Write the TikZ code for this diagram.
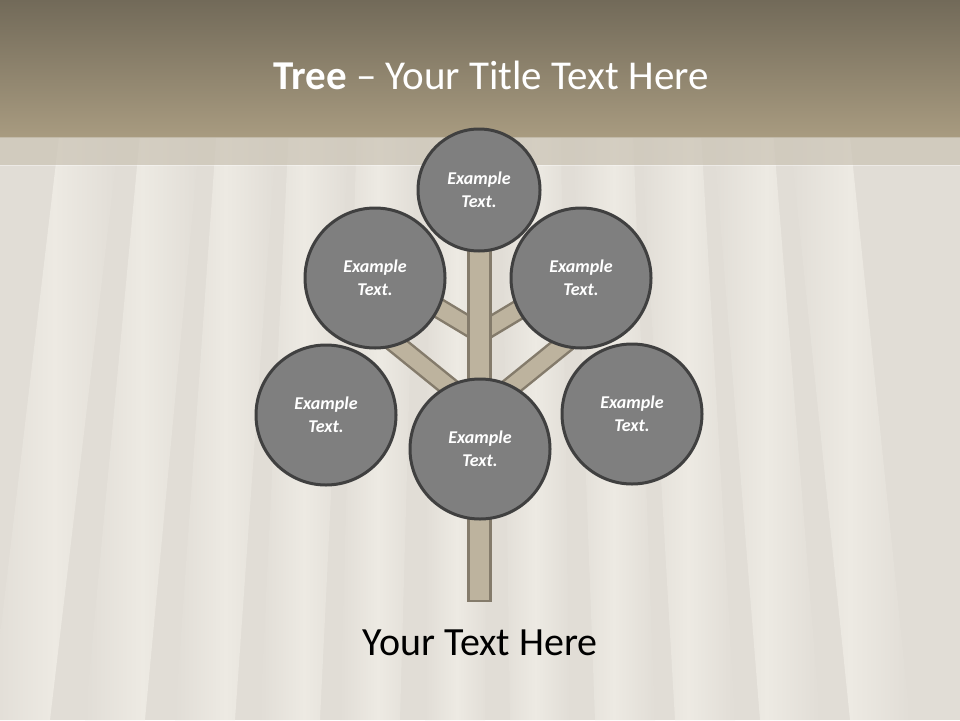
\documentclass[tikz,border=0pt]{standalone}
\usepackage{fontspec}
\setmainfont{Carlito}
\usepackage{tikz}
\usetikzlibrary{calc,positioning}
\definecolor{mybartop}{RGB}{114,106,89}
\definecolor{mybarbottom}{RGB}{168,155,128}
\definecolor{myband}{RGB}{204,197,183}
\definecolor{mybg}{RGB}{225,221,214}
\definecolor{mybglight}{RGB}{237,234,227}
\definecolor{mygray}{RGB}{127,127,127}
\definecolor{mydarkgray}{RGB}{64,64,64}
\definecolor{mybranchfill}{RGB}{189,179,158}
\definecolor{mybranchedge}{RGB}{132,123,107}

\begin{document}
\begin{tikzpicture}[
  x=1pt,
  y=-1pt,
  mycircle/.style={
    circle,
    draw=mydarkgray,
    line width=3pt,
    fill=mygray,
    minimum size=#1,
    inner sep=0pt,
    align=center,
    text=white,
    font=\bfseries\itshape\fontsize{18}{23}\selectfont
    },
  mybranch/.style={
    draw=mybranchedge,
    line width=2.5pt,
    double=mybranchfill,
    double distance=16pt
  },
  mytrunk/.style={
    draw=mybranchedge,
    line width=2.5pt,
    fill=mybranchfill
  }
]

\useasboundingbox (0,0) rectangle (960,720);
\fill[mybg] (0,0) rectangle (960,720);
\foreach \Xpos in {20,115,205,290,370,455,540,625,705,790,880}
  \shade[left color=mybg, right color=mybg, middle color=mybglight]
    ($(\Xpos,720)+(-30,0)$) -- ($(\Xpos,720)+(30,0)$)
    -- ($({480+(\Xpos-480)*0.85},137)+(30,0)$) -- ($({480+(\Xpos-480)*0.85},137)+(-30,0)$) -- cycle;

\shade[top color=mybartop, bottom color=mybarbottom] (0,0) rectangle (960,137);
\fill[myband, opacity=0.75] (0,137) rectangle (960,165);
\draw[white, opacity=0.4, line width=1pt] (0,165) -- (960,165);

\node[font=\fontsize{41}{50}\selectfont, text=white] (title) at (491,75) {{\bfseries Tree} -- Your Title Text Here};

\coordinate (fork1) at (480,333);
\coordinate (fork2) at (480,412);
\coordinate (b1) at (375,270);
\coordinate (b2) at (585,270);
\coordinate (b3) at (380,331);
\coordinate (b4) at (580,331);

\draw[mybranch] (fork1) -- (b1);
\draw[mybranch] (fork1) -- (b2);
\draw[mybranch] (fork2) -- (b3);
\draw[mybranch] (fork2) -- (b4);
\draw[mytrunk] (468.5,245) rectangle (490.5,601);

\node[mycircle=122pt] (top) at (479,190) {Example\\Text.};
\node[mycircle=140pt] (upleft) at (375,278) {Example\\Text.};
\node[mycircle=140pt] (upright) at (581,278) {Example\\Text.};
\node[mycircle=140pt] (left) at (326,415) {Example\\Text.};
\node[mycircle=140pt] (middle) at (480,449) {Example\\Text.};
\node[mycircle=140pt] (right) at (632,414) {Example\\Text.};

\node[font=\fontsize{40}{46}\selectfont] (caption) at (480,643) {Your Text Here};

\end{tikzpicture}
\end{document}
